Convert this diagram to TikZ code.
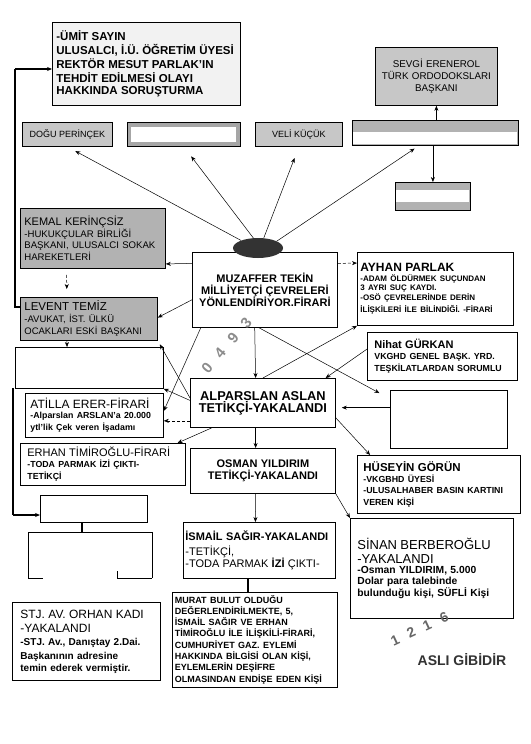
\documentclass[tikz,border=0pt]{standalone}
\usepackage{fontspec}
\setmainfont{Liberation Sans}
\usetikzlibrary{arrows.meta,shapes.geometric,calc}
\newcommand\fsz[2]{\fontsize{#1}{#2}\selectfont}
\begin{document}
\begin{tikzpicture}[x=1pt,y=-1pt,
 box/.style={draw, line width=0.8pt, anchor=north west, inner ysep=2pt, font=\bfseries},
 gbox/.style={box, fill=black!22},
 arr/.style={-{Stealth[length=5pt,width=4pt]}, line width=0.5pt},
 stamp/.style={text=black!45, inner sep=0pt}
]
\fill[white] (0,0) rectangle (530,744);
\useasboundingbox (0,0) rectangle (530,744);

% ---------- top row ----------
\node[box, fill=black!5, minimum width=188pt, minimum height=83pt, text width=180pt, inner xsep=4pt, align=left] (umit) at (52,22)
 {\fsz{11.5}{14}-ÜMİT SAYIN\\ULUSALCI, İ.Ü. ÖĞRETİM ÜYESİ\\REKTÖR MESUT PARLAK'IN\\TEHDİT EDİLMESİ OLAYI\\HAKKINDA SORUŞTURMA};
\node[gbox, minimum width=122pt, minimum height=58pt, text width=118pt, inner xsep=2pt, align=center, font=\mdseries] (sevgi) at (375,47)
 {\fsz{9.8}{12.5}SEVGİ ERENEROL\\TÜRK ORDODOKSLARI\\BAŞKANI};
\node[gbox, minimum width=90pt, minimum height=24pt, font=\mdseries\fsz{9}{11}] (dogu) at (22,122) {DOĞU PERİNÇEK};
\node[box, fill=black!35, minimum width=113pt, minimum height=24pt] (blank2) at (127,122) {};
\node[gbox, minimum width=87pt, minimum height=24pt, font=\mdseries\fsz{9}{11}] (veli) at (255,122) {VELİ KÜÇÜK};
\node[box, fill=black!30, minimum width=166pt, minimum height=25pt] (blank4) at (352,120) {};
\node[box, fill=black!30, minimum width=75pt, minimum height=28pt] (small) at (395,182) {};
\fill[white] (131,127) rectangle (236,142);
\fill[white] (353,132) rectangle (517,144);
\fill[white] (396,190) rectangle (469,202);

% ---------- left column ----------
\node[box, fill=black!30, minimum width=145pt, minimum height=60pt, text width=137pt, inner xsep=4pt, align=left, font=\mdseries] (kemal) at (20,208)
 {{\fsz{11}{12}KEMAL KERİNÇSİZ\par}\fsz{9.6}{11.5}-HUKUKÇULAR BİRLİĞİ\\BAŞKANI, ULUSALCI SOKAK\\HAREKETLERİ};
\node[box, fill=black!30, minimum width=137pt, minimum height=43pt, text width=129pt, inner xsep=4pt, align=left, font=\mdseries] (levent) at (20,297)
 {{\fsz{11.5}{12}LEVENT TEMİZ\par}\fsz{9.5}{12}-AVUKAT, İST. ÜLKÜ\\OCAKLARI ESKİ BAŞKANI};
\node[box, minimum width=148pt, minimum height=41pt] (emptyL) at (15,347) {};
\node[box, minimum width=138pt, minimum height=44pt, text width=128pt, inner xsep=5pt, align=left] (atilla) at (25,393)
 {{\mdseries\fsz{12}{13}ATİLLA ERER-FİRARİ\par}\fsz{8.8}{9.5}-Alparslan ARSLAN'a 20.000\\ytl'lik Çek veren İşadamı};
\node[box, minimum width=165pt, minimum height=42pt, text width=151pt, inner xsep=7pt, align=left] (erhan) at (20,443)
 {{\mdseries\fsz{11}{12.5}ERHAN TİMİROĞLU-FİRARİ\par}\fsz{8.8}{11}-TODA PARMAK İZİ ÇIKTI-\\TETİKÇİ};
\node[box, minimum width=107pt, minimum height=27pt] (lowbox) at (40,495) {};
\draw[line width=0.8pt] (28,578) -- (28,532) -- (152,532) -- (152,578);
\draw[line width=0.8pt] (28,578) -- (43,578) (117,578) -- (152,578) (117,571) -- (117,578);
\node[box, minimum width=148pt, minimum height=78pt, text width=132pt, inner xsep=8pt, align=left] (orhan) at (12,602)
 {{\mdseries\fsz{12}{14}STJ. AV. ORHAN KADI\\-YAKALANDI\par}\fsz{10}{13.5}-STJ. Av., Danıştay 2.Dai.\\Başkanının adresine\\temin ederek vermiştir.};

% ---------- centre ----------
\node[box, fill=white, minimum width=145pt, minimum height=75pt, text width=141pt, inner xsep=2pt, align=center] (muz) at (192,252)
 {\fsz{11}{12.5}MUZAFFER TEKİN\\MİLLİYETÇİ ÇEVRELERİ\\YÖNLENDİRİYOR.FİRARİ};
\node[ellipse, fill=black!80, minimum width=50pt, minimum height=20pt, inner sep=0pt] (ell) at (258,248) {};
\node[box, minimum width=145pt, minimum height=49pt, text width=143pt, inner xsep=1pt, align=center] (alp) at (190,378)
 {\fsz{12.8}{14}ALPARSLAN ASLAN\\TETİKÇİ-YAKALANDI};
\node[box, minimum width=145pt, minimum height=45pt, text width=141pt, inner xsep=2pt, align=center] (osman) at (190,448)
 {\fsz{11}{13}OSMAN YILDIRIM\\TETİKÇİ-YAKALANDI};
\node[box, minimum width=152pt, minimum height=56pt, text width=148pt, inner xsep=2pt, align=left] (ismail) at (183,522)
 {{\fsz{11}{14.5}İSMAİL SAĞIR-YAKALANDI\par}\mdseries\fsz{11}{14.5}-TETİKÇİ,\\-TODA PARMAK \textbf{İZİ} ÇIKTI-};
\node[box, minimum width=165pt, minimum height=95pt, text width=160pt, inner xsep=2.5pt, align=left] (murat) at (172,592)
 {\fsz{9}{11.2}MURAT BULUT OLDUĞU\\DEĞERLENDİRİLMEKTE, 5,\\İSMAİL SAĞIR VE ERHAN\\TİMİROĞLU İLE İLİŞKİLİ-FİRARİ,\\CUMHURİYET GAZ. EYLEMİ\\HAKKINDA BİLGİSİ OLAN KİŞİ,\\EYLEMLERİN DEŞİFRE\\OLMASINDAN ENDİŞE EDEN KİŞİ};

% ---------- right column ----------
\node[box, minimum width=156pt, minimum height=73pt, text width=150pt, inner xsep=3pt, align=left] (ayhan) at (357,252)
 {{\fsz{12}{13}AYHAN PARLAK\par}\fsz{8}{9.5}-ADAM ÖLDÜRMEK SUÇUNDAN\\3 AYRI SUÇ KAYDI.\\-OSÖ ÇEVRELERİNDE DERİN\\İLİŞKİLERİ İLE BİLİNDİĞİ. -FİRARİ};
\node[box, minimum width=150pt, minimum height=48pt, text width=136pt, inner xsep=7pt, align=left] (nihat) at (367,332)
 {{\fsz{11}{12}Nihat GÜRKAN\par}\fsz{8.8}{10.5}VKGHD GENEL BAŞK. YRD.\\TEŞKİLATLARDAN SORUMLU};
\node[box, minimum width=117pt, minimum height=58pt] (emptyR) at (390,390) {};
\node[box, minimum width=163pt, minimum height=58pt, text width=151pt, inner xsep=6pt, align=left] (huseyin) at (357,455)
 {{\fsz{11.5}{12.5}HÜSEYİN GÖRÜN\par}\fsz{8.8}{11}-VKGBHD ÜYESİ\\-ULUSALHABER BASIN KARTINI\\VEREN KİŞİ};
\node[box, minimum width=163pt, minimum height=100pt, text width=149pt, inner xsep=7pt, align=left] (sinan) at (350,518)
 {{\mdseries\fsz{13}{13.5}SİNAN BERBEROĞLU\\-YAKALANDI\par}\fsz{10.3}{10.5}-Osman YILDIRIM, 5.000\\Dolar para talebinde\\bulunduğu kişi, SÜFLİ Kişi};

% ---------- connectors ----------
\coordinate (ltop) at (15,69);
\coordinate (lbot) at (15,307);
\draw[line width=1.5pt] (levent.west |- lbot) -- (lbot) -- (ltop);
\draw[arr, line width=1.5pt] (ltop) -- (umit.west |- ltop);
\coordinate (l2top) at (13,388);
\coordinate (l2bot) at (13,515);
\draw[line width=1.5pt] (l2top) -- (l2bot);
\draw[arr, line width=1.2pt] (l2bot) -- (lowbox.west |- l2bot);
\coordinate (brk) at (82,532);
\draw[line width=2pt] (brk |- lowbox.south) -- (brk);
\coordinate (mcon) at (248,592);
\draw[line width=1.2pt] (mcon |- ismail.south) -- (mcon);

\draw[arr, shorten >=9pt] (ell.156) -- (dogu.south);
\draw[arr, shorten >=12pt] (ell.115) -- (blank2.south);
\draw[arr, shorten >=12pt] (ell.60) -- (veli.south);
\draw[arr, shorten >=5pt] (ell.20) -- ($(blank4.south west)!0.4!(blank4.south east)$);
\draw[arr] (blank4.north -| sevgi.south) -- (sevgi.south);
\draw[arr] (blank4.south -| small.north) -- (small.north);

\draw[arr] ($(muz.north west)!0.15!(muz.south west)$) -- ($(kemal.north east)!0.92!(kemal.south east)$);
\draw[arr] ($(muz.north west)!0.63!(muz.south west)$) -- ($(levent.north east)!0.47!(levent.south east)$);
\draw[arr, densely dashed, shorten <=6pt, shorten >=8pt] ($(kemal.south west)!0.32!(kemal.south east)$) -- ($(levent.north west)!0.34!(levent.north east)$);
\draw[arr] ($(levent.south west)!0.34!(levent.south east)$) -- ($(emptyL.north west)!0.35!(emptyL.north east)$);
\draw[arr] ($(muz.south west)!0.06!(muz.south east)$) -- ($(atilla.north east)!0.4!(atilla.south east)$);
\draw[arr] ($(muz.south west)!0.43!(muz.south east)$) -- ($(alp.north west)!0.45!(alp.north east)$);
\draw[arr, shorten >=12pt] ($(muz.south west)!0.46!(muz.south east)$) -- ($(emptyR.north west)!0.15!(emptyR.south west)$);
\draw[arr, densely dashed] ($(muz.north east)!0.15!(muz.south east)$) -- ($(ayhan.north west)!0.15!(ayhan.south west)$);

\draw[arr] ($(alp.north west)!0.5!(alp.north east)$) -- (ayhan.south west);
\draw[arr] ($(nihat.north west)!0.35!(nihat.south west)$) -- ($(alp.north west)!0.93!(alp.north east)$);
\coordinate (er1) at ($(emptyR.north west)!0.3!(emptyR.south west)$);
\draw[arr, shorten >=6pt] (er1) -- (er1 -| alp.east);
\draw[arr] ($(alp.north east)!0.8!(alp.south east)$) -- ($(huseyin.north west)!0.08!(huseyin.north east)$);
\draw[arr] ($(alp.south west)!0.45!(alp.south east)$) -- ($(osman.north west)!0.45!(osman.north east)$);
\draw[arr] ($(alp.south west)!0.15!(alp.south east)$) -- ($(erhan.north west)!0.95!(erhan.north east)$);
\coordinate (al1) at ($(alp.north west)!0.86!(alp.south west)$);
\draw[arr, densely dashed] (al1) -- (al1 -| atilla.east);
\draw[arr, shorten >=4pt] ($(alp.north west)!0.4!(alp.south west)$) -- (levent.south east);
\draw[arr] ($(alp.north west)!0.45!(alp.south west)$) -- (emptyL.south east);
\draw[arr] ($(osman.south west)!0.45!(osman.south east)$) -- ($(ismail.north west)!0.474!(ismail.north east)$);
\draw[arr] (osman.south east) -- (sinan.north west);

% ---------- stamps ----------
\node[stamp, rotate=50, font=\bfseries\fsz{15}{15}] (sd1) at (207,368) {0};
\node[stamp, rotate=50, font=\bfseries\fsz{15}{15}] (sd2) at (220,353) {4};
\node[stamp, rotate=50, font=\bfseries\fsz{15}{15}] (sd3) at (233,338) {9};
\node[stamp, rotate=50, font=\bfseries\fsz{15}{15}] (sd4) at (246,323) {3};
\node[stamp, text=black!60, rotate=25, font=\bfseries\fsz{14}{14}] (se1) at (395,640) {1};
\node[stamp, text=black!60, rotate=25, font=\bfseries\fsz{14}{14}] (se2) at (411,632) {2};
\node[stamp, text=black!60, rotate=25, font=\bfseries\fsz{14}{14}] (se3) at (427,625) {1};
\node[stamp, text=black!60, rotate=25, font=\bfseries\fsz{14}{14}] (se4) at (444,617) {6};
\node[text=black!80, font=\bfseries\fsz{14}{14}] (asli) at (462,660) {ASLI GİBİDİR};
\end{tikzpicture}
\end{document}
